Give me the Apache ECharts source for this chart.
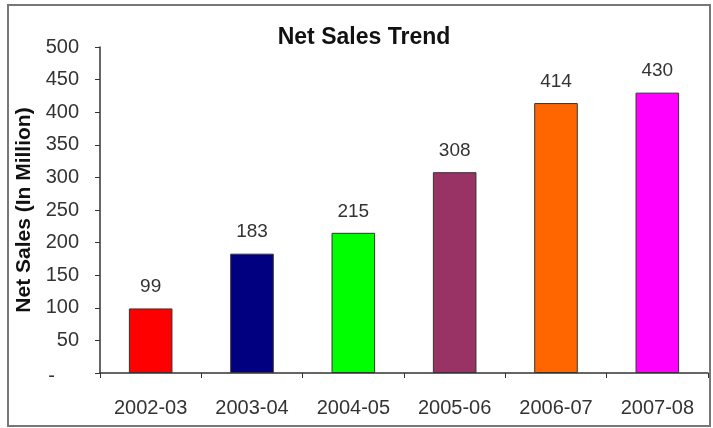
<!DOCTYPE html>
<html><head><meta charset="utf-8">
<script src="https://cdn.jsdelivr.net/npm/echarts@6/dist/echarts.min.js"></script>
<style>html,body{margin:0;padding:0;background:#fff}#c{width:713px;height:428px}</style>
</head><body><div id="c"></div>
<script>
const categories = ['2002-03','2003-04','2004-05','2005-06','2006-07','2007-08'];
const values = [99, 183, 215, 308, 414, 430];
const barColors = ['#FF0000','#000080','#00FF00','#993366','#FF6600','#FF00FF'];
const titleText = 'Net Sales Trend';
const yAxisName = 'Net Sales (In Million)';

const chart = echarts.init(document.getElementById('c'));
const font = 'Liberation Sans, Arial, sans-serif';
chart.setOption({
  animation: false,
  backgroundColor: '#fff',
  title: { text: titleText, left: 359, top: 21, textAlign: 'center',
    textStyle: { fontFamily: font, fontSize: 23, fontWeight: 'bold', color: '#111' } },
  graphic: [{ type: 'rect', shape: { x: 8, y: 5, width: 702, height: 421 },
    style: { fill: 'none', stroke: '#777', lineWidth: 2 }, silent: true }],
  grid: { left: 100, right: 5, top: 47, bottom: 55 },
  xAxis: {
    type: 'category', data: categories,
    axisLine: { lineStyle: { color: '#333', width: 1.5 } },
    axisTick: { show: true, length: 5, lineStyle: { color: '#333' } },
    axisLabel: { fontFamily: font, fontSize: 20, color: '#333', margin: 25 }
  },
  yAxis: {
    type: 'value', min: 0, max: 500, interval: 50,
    name: yAxisName, nameLocation: 'middle', nameGap: 62, nameRotate: 90,
    nameTextStyle: { fontFamily: font, fontSize: 21, fontWeight: 'bold', color: '#111' },
    splitLine: { show: false },
    axisLine: { show: true, lineStyle: { color: '#333', width: 1.5 } },
    axisTick: { show: true, length: 5, lineStyle: { color: '#333' } },
    axisLabel: { fontFamily: font, fontSize: 20, color: '#333', margin: 21,
      formatter: v => v === 0 ? '{z|-}' : String(v),
      rich: { z: { fontFamily: font, fontSize: 20, color: '#333', padding: [6, 24, 0, 0] } } }
  },
  series: [{
    type: 'bar', barWidth: '43%',
    data: values.map((v, i) => ({ value: v, itemStyle: { color: barColors[i] } })),
    itemStyle: { borderColor: '#333', borderWidth: 1 },
    label: { show: true, position: 'top', distance: 12, fontFamily: font, fontSize: 19, color: '#333' }
  }]
});
</script></body></html>
